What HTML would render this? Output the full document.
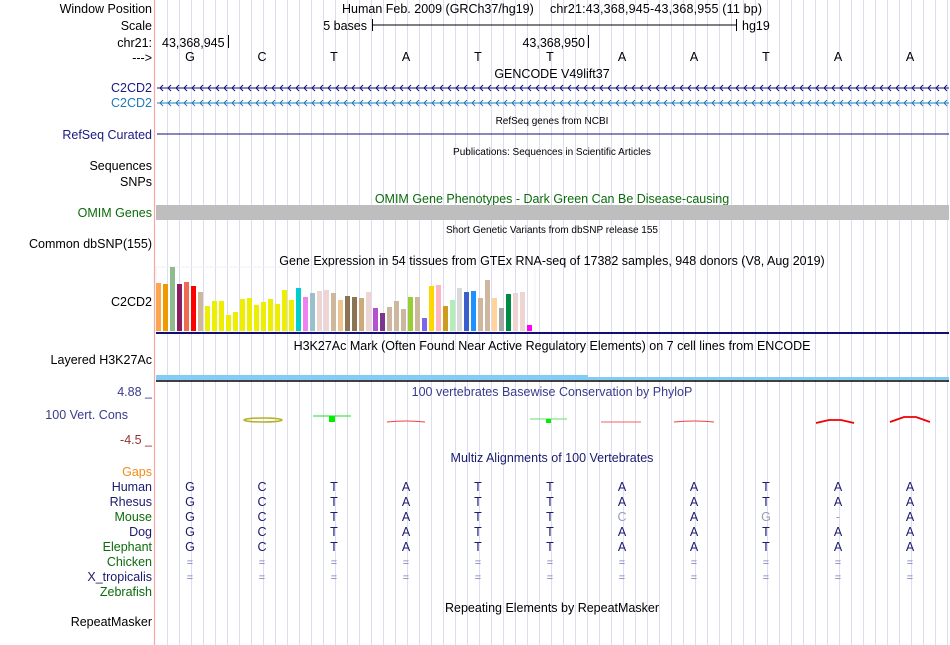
<!DOCTYPE html>
<html><head><meta charset="utf-8"><style>
html,body{margin:0;padding:0;background:#fff;}
svg{display:block;font-family:"Liberation Sans",sans-serif;}
</style></head><body>
<svg id="c" width="950" height="645" viewBox="0 0 950 645" xmlns="http://www.w3.org/2000/svg">
<g id="grid"></g>
<line x1="154.5" y1="0" x2="154.5" y2="645" stroke="#f4a9a9" stroke-width="1.2"/>
<g font-size="12.5" text-anchor="end">
<text x="152" y="13" fill="#000">Window Position</text>
<text x="152" y="30" fill="#000">Scale</text>
<text x="152" y="47" fill="#000">chr21:</text>
<text x="152" y="62" fill="#000">---&gt;</text>
<text x="152" y="92" fill="#1a1a80">C2CD2</text>
<text x="152" y="107" fill="#1f7ab8">C2CD2</text>
<text x="152" y="139" fill="#1a1a80">RefSeq Curated</text>
<text x="152" y="170" fill="#000">Sequences</text>
<text x="152" y="186" fill="#000">SNPs</text>
<text x="152" y="217" fill="#0b6b0b">OMIM Genes</text>
<text x="152" y="248" fill="#000">Common dbSNP(155)</text>
<text x="152" y="306" fill="#000">C2CD2</text>
<text x="152" y="364" fill="#000">Layered H3K27Ac</text>
<text x="152" y="396" fill="#3a3a8c">4.88 _</text>
<text x="128" y="419" fill="#3a3a8c">100 Vert. Cons</text>
<text x="152" y="444" fill="#963232">-4.5 _</text>
<text x="152" y="476" fill="#f28c1a">Gaps</text>
<text x="152" y="491" fill="#1a1a6e">Human</text>
<text x="152" y="506" fill="#1a1a6e">Rhesus</text>
<text x="152" y="521" fill="#0b6b0b">Mouse</text>
<text x="152" y="536" fill="#1a1a6e">Dog</text>
<text x="152" y="551" fill="#0b6b0b">Elephant</text>
<text x="152" y="566" fill="#0b6b0b">Chicken</text>
<text x="152" y="581" fill="#1a1a6e">X_tropicalis</text>
<text x="152" y="596" fill="#0b6b0b">Zebrafish</text>
<text x="152" y="626" fill="#000">RepeatMasker</text>
</g>
<g font-size="12.5" fill="#000">
<text x="342" y="13">Human Feb. 2009 (GRCh37/hg19)</text>
<text x="550" y="13" textLength="212" lengthAdjust="spacing">chr21:43,368,945-43,368,955 (11 bp)</text>
<text x="367" y="30" text-anchor="end">5 bases</text>
<line x1="372" y1="25" x2="736" y2="25" stroke="#000"/>
<line x1="372.5" y1="19" x2="372.5" y2="31" stroke="#000"/>
<line x1="736.5" y1="19" x2="736.5" y2="31" stroke="#000"/>
<text x="742" y="30">hg19</text>
<text x="162" y="47">43,368,945</text>
<line x1="228.5" y1="35" x2="228.5" y2="48" stroke="#000"/>
<text x="585" y="47" text-anchor="end">43,368,950</text>
<line x1="588.5" y1="35" x2="588.5" y2="48" stroke="#000"/>
</g>
<g id="bases" font-size="12.5" text-anchor="middle"></g>
<g font-size="12.5" text-anchor="middle">
<text x="552" y="78" fill="#000">GENCODE V49lift37</text>
<text x="552" y="124" fill="#000" font-size="10">RefSeq genes from NCBI</text>
<text x="552" y="155" fill="#000" font-size="10">Publications: Sequences in Scientific Articles</text>
<text x="552" y="203" fill="#0b6b0b">OMIM Gene Phenotypes - Dark Green Can Be Disease-causing</text>
<text x="552" y="233" fill="#000" font-size="10">Short Genetic Variants from dbSNP release 155</text>
<text x="552" y="265" fill="#000">Gene Expression in 54 tissues from GTEx RNA-seq of 17382 samples, 948 donors (V8, Aug 2019)</text>
<text x="552" y="350" fill="#000">H3K27Ac Mark (Often Found Near Active Regulatory Elements) on 7 cell lines from ENCODE</text>
<text x="552" y="396" fill="#3a3a8c">100 vertebrates Basewise Conservation by PhyloP</text>
<text x="552" y="462" fill="#1a1a6e">Multiz Alignments of 100 Vertebrates</text>
<text x="552" y="612" fill="#000">Repeating Elements by RepeatMasker</text>
</g>
<g id="genes"></g>
<rect x="156" y="205" width="793" height="15" fill="#bebebe"/>
<g id="gtex"></g>
<line x1="156" y1="333" x2="949" y2="333" stroke="#10106e" stroke-width="2"/>
<rect x="156" y="375" width="432" height="5" fill="#82cdf5"/>
<rect x="588" y="377" width="361" height="3" fill="#82cdf5"/>
<line x1="156" y1="381" x2="949" y2="381" stroke="#000" stroke-width="1.5"/>
<g>
<ellipse cx="263" cy="420" rx="19" ry="2" fill="none" stroke="#b5b028" stroke-width="1.5"/>
<line x1="313" y1="416" x2="351" y2="416" stroke="#22e022"/><rect x="329" y="416" width="6" height="6" fill="#00ee00"/>
<path d="M387 422 Q406 420 425 422" stroke="#f04040" fill="none"/>
<line x1="530" y1="419" x2="567" y2="419" stroke="#66e066"/><rect x="546" y="419" width="5" height="4" fill="#00ee00"/>
<line x1="601" y1="422" x2="641" y2="422" stroke="#f06060"/>
<path d="M674 422 Q694 420 714 422" stroke="#f04040" fill="none"/>
<path d="M816 423 L829 420 L841 420 L854 423" stroke="#ee0000" stroke-width="1.8" fill="none"/>
<path d="M890 422 L904 417 L916 417 L930 422" stroke="#ee0000" stroke-width="1.8" fill="none"/>
</g>
<g id="multiz" font-size="12.5" text-anchor="middle"></g>
</svg>
<script>
const NS="http://www.w3.org/2000/svg";
const refBases=["G","C","T","A","T","T","A","A","T","A","A"];
const species=["Human","Rhesus","Mouse","Dog","Elephant"];
const seqHuman=["G","C","T","A","T","T","A","A","T","A","A"];
const seqRhesus=["G","C","T","A","T","T","A","A","T","A","A"];
const seqMouse=["G","C","T","A","T","T","C","A","G","-","A"];
const seqDog=["G","C","T","A","T","T","A","A","T","A","A"];
const seqElephant=["G","C","T","A","T","T","A","A","T","A","A"];
const gtexTissues=["Adipose Subcut","Adipose Visceral","Adrenal","Artery Aorta","Artery Coronary","Artery Tibial","Bladder","Brain Amygdala","Brain ACC","Brain Caudate","Brain Cerebellar Hem","Brain Cerebellum","Brain Cortex","Brain Frontal","Brain Hippocampus","Brain Hypothalamus","Brain Nucleus Acc","Brain Putamen","Brain Spinal","Brain Substantia","Breast","EBV Lymphocytes","Fibroblasts","Cervix Ecto","Cervix Endo","Colon Sigmoid","Colon Transverse","Esophagus GJ","Esophagus Mucosa","Esophagus Muscularis","Fallopian Tube","Heart AA","Heart LV","Kidney Cortex","Kidney Medulla","Liver","Lung","Minor Salivary","Muscle","Nerve Tibial","Ovary","Pancreas","Pituitary","Prostate","Skin Not Sun","Skin Sun","Small Intestine","Spleen","Stomach","Testis","Thyroid","Uterus","Vagina","Whole Blood"];
const gtexValues=[48,47,64,47,49,45,39,25,30,30,16,19,32,33,26,29,32,27,41,31,43,34,38,40,41,38,31,35,34,33,39,23,18,24,30,22,34,34,13,45,46,25,31,43,39,40,33,51,33,23,37,38,39,6];
const gtexColors=["#FFA54F","#EE9A00","#8FBC8F","#8B1C62","#EE6A50","#FF0000","#CDB79E","#EEEE00","#EEEE00","#EEEE00","#EEEE00","#EEEE00","#EEEE00","#EEEE00","#EEEE00","#EEEE00","#EEEE00","#EEEE00","#EEEE00","#EEEE00","#00CDCD","#EE82EE","#9AC0CD","#EED5D2","#EED5D2","#CDB79E","#EEC591","#8B7355","#8B7355","#CDAA7D","#EED5D2","#B452CD","#7A378B","#CDB79E","#CDB79E","#CDB79E","#9ACD32","#CDB79E","#7A67EE","#FFD700","#FFB6C1","#CD9B1D","#B4EEB4","#D9D9D9","#3A5FCD","#1E90FF","#CDB79E","#CDB79E","#FFD39B","#A6A6A6","#008B45","#EED5D2","#EED5D2","#FF00FF"];

const X0=156,BW=72;
function baseX(i){return X0+BW*(i+0.5)-2;}
function mk(tag,attrs,parent){const e=document.createElementNS(NS,tag);for(const k in attrs)e.setAttribute(k,attrs[k]);parent.appendChild(e);return e;}

const grid=document.getElementById('grid');
for(let x=167.5;x<950;x+=12){
  mk('line',{x1:x,y1:0,x2:x,y2:645,stroke:'#dcdcf4','stroke-width':1},grid);
}
const bases=document.getElementById('bases');
refBases.forEach((b,i)=>{
  const t=mk('text',{x:baseX(i),y:61,fill:'#000'},bases);t.textContent=b;
  
  
});
const genes=document.getElementById('genes');
function geneLine(y,color,chev,name){
  const l=mk('line',{x1:157,y1:y,x2:949,y2:y,stroke:color,'stroke-width':1},genes);
  
  
  if(chev){let d='';for(let x=160;x<948;x+=8){d+=`M${x+3} ${y-3}L${x} ${y}L${x+3} ${y+3}`;}
  mk('path',{d:d,stroke:color,fill:'none','stroke-width':1},genes);}
}
geneLine(88,'#12127a',true,'gencode-c2cd2-transcript');
geneLine(103,'#1f7ab8',true,'gencode-c2cd2-transcript-2');
geneLine(134,'#12127a',false,'refseq-c2cd2');
const gtex=document.getElementById('gtex');
const gBase=331,gStep=7,gW=5,gScale=1;
mk('rect',{x:156,y:267,width:379,height:65,fill:'none',stroke:'#f0f0f0'},gtex);
gtexValues.forEach((v,i)=>{
  const h=v*gScale;
  const r=mk('rect',{x:156+i*gStep,y:gBase-h,width:gW,height:h,fill:gtexColors[i]},gtex);
  
  
});
const mz=document.getElementById('multiz');
const rows=[seqHuman,seqRhesus,seqMouse,seqDog,seqElephant];
rows.forEach((seq,r)=>{
  seq.forEach((b,i)=>{
    const diff=b!==seqHuman[i];
    const t=mk('text',{x:baseX(i),y:491+15*r,fill:diff?'#9a9ab8':'#1a1a6e'},mz);
    t.textContent=b;
    
    
  });
});
[566,581].forEach(y=>{
  refBases.forEach((b,i)=>{
    const t=mk('text',{x:baseX(i),y:y,fill:'#7a7ab8','font-size':11},mz);
    t.textContent='=';
    
    
  });
});
</script>
</body></html>
